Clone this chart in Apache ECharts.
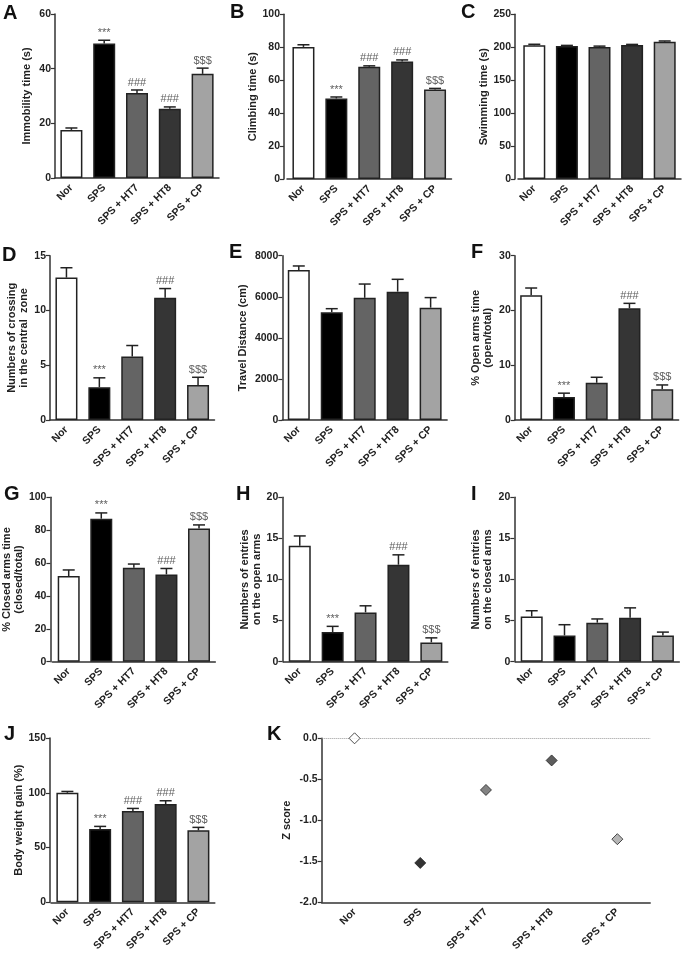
<!DOCTYPE html>
<html>
<head>
<meta charset="utf-8">
<script src="https://cdn.jsdelivr.net/npm/echarts@6/dist/echarts.min.js"></script>
<style>
html,body{margin:0;padding:0;background:#fff;}
#chart{width:685px;height:955px;}
</style>
</head>
<body>
<div id="chart"></div>
<script>
// ---------- DATA ----------
const categories = ['Nor', 'SPS', 'SPS + HT7', 'SPS + HT8', 'SPS + CP'];

const immobilityMean = [17.6, 49.2, 31.1, 25.3, 38.1];
const immobilityErr  = [0.7, 1.2, 1.1, 0.7, 2.1];
const immobilitySig  = ['', '***', '###', '###', '$$$'];

const climbingMean = [80.2, 48.9, 68.1, 71.3, 54.4];
const climbingErr  = [1.3, 0.9, 0.6, 1.0, 0.6];
const climbingSig  = ['', '***', '###', '###', '$$$'];

const swimmingMean = [203, 202, 200.5, 203.5, 208.5];
const swimmingErr  = [1.5, 0.8, 1.2, 0.8, 1.0];

const crossingMean = [13.0, 3.0, 5.8, 11.15, 3.2];
const crossingErr  = [0.9, 0.85, 1.0, 0.85, 0.7];
const crossingSig  = ['', '***', '', '###', '$$$'];

const travelMean = [7300, 5250, 5950, 6250, 5470];
const travelErr  = [200, 170, 670, 600, 490];

const openTimeMean = [22.8, 4.2, 6.8, 20.4, 5.6];
const openTimeErr  = [1.3, 0.7, 1.0, 0.9, 0.8];
const openTimeSig  = ['', '***', '', '###', '$$$'];

const closedTimeMean = [52.1, 87.0, 57.2, 53.1, 81.0];
const closedTimeErr  = [3.7, 3.5, 2.2, 3.6, 2.2];
const closedTimeSig  = ['', '***', '', '###', '$$$'];

const openEntriesMean = [14.1, 3.6, 6.0, 11.8, 2.35];
const openEntriesErr  = [1.2, 0.7, 0.8, 1.2, 0.55];
const openEntriesSig  = ['', '***', '', '###', '$$$'];

const closedEntriesMean = [5.5, 3.2, 4.75, 5.35, 3.2];
const closedEntriesErr  = [0.7, 1.3, 0.45, 1.2, 0.4];

const weightMean = [100, 67, 83.3, 89.7, 65.7];
const weightErr  = [1.2, 2.3, 2.4, 3.0, 2.7];
const weightSig  = ['', '***', '###', '###', '$$$'];

const zScore = [0.0, -1.52, -0.63, -0.27, -1.23];

// ---------- STYLE ----------
const barColors = ['#ffffff', '#000000', '#646464', '#353535', '#a3a3a3'];
const FONT = '"Liberation Sans", Arial, sans-serif';
const AX = '#333';

const panels = [
  {letter:'A', lx:3,  ly:3,   grid:{left:55,  top:14,  width:164, height:164}, off:0, name:'Immobility time (s)', gap:22, max:60, interval:20, mean:immobilityMean, err:immobilityErr, sig:immobilitySig},
  {letter:'B', lx:230,ly:2,   grid:{left:287, top:14.3,width:164.5,height:164.7}, off:3, name:'Climbing time (s)', gap:24, max:100, interval:20, mean:climbingMean, err:climbingErr, sig:climbingSig},
  {letter:'C', lx:461,ly:2,   grid:{left:518, top:14.3,width:163, height:164.7}, off:3, name:'Swimming time (s)', gap:23, max:250, interval:50, mean:swimmingMean, err:swimmingErr, sig:null},
  {letter:'D', lx:2,  ly:245, grid:{left:50,  top:255.7,width:164.5,height:164.3}, off:0, name:'Numbers of crossing\nin the central  zone', gap:18, max:15, interval:5, mean:crossingMean, err:crossingErr, sig:crossingSig},
  {letter:'E', lx:229,ly:242, grid:{left:282.3,top:255.7,width:164.8,height:164.3}, off:0, name:'Travel Distance (cm)', gap:33, max:8000, interval:2000, mean:travelMean, err:travelErr, sig:null},
  {letter:'F', lx:471,ly:242, grid:{left:514.8,top:255.7,width:163.8,height:164.3}, off:0, name:'% Open arms time\n(open/total)', gap:21, max:30, interval:10, mean:openTimeMean, err:openTimeErr, sig:openTimeSig},
  {letter:'G', lx:4,  ly:484, grid:{left:50.3,top:497.3,width:165,height:164.4}, off:2, name:'% Closed arms time\n(closed/total)', gap:24, max:100, interval:20, mean:closedTimeMean, err:closedTimeErr, sig:closedTimeSig},
  {letter:'H', lx:236,ly:484, grid:{left:283.3,top:497.3,width:164.5,height:164.4}, off:1, name:'Numbers of entries\non the open arms', gap:18, max:20, interval:5, mean:openEntriesMean, err:openEntriesErr, sig:openEntriesSig},
  {letter:'I', lx:471,ly:484, grid:{left:515.3,top:497.3,width:164,height:164.4}, off:1, name:'Numbers of entries\non the closed arms', gap:20, max:20, interval:5, mean:closedEntriesMean, err:closedEntriesErr, sig:null},
  {letter:'J', lx:4,  ly:724, grid:{left:51,  top:738, width:163.8,height:164.3}, off:1, name:'Body weight gain (%)', gap:24, max:150, interval:50, mean:weightMean, err:weightErr, sig:weightSig}
];

const grids = [], xAxes = [], yAxes = [], series = [], graphics = [];

function catAxis(gi){
  return {
    type:'category', gridIndex:gi, data:categories,
    axisLine:{onZero:false, lineStyle:{color:AX, width:1.5}},
    axisTick:{alignWithLabel:true, length:4, lineStyle:{color:AX, width:1.2}},
    axisLabel:{rotate:45, margin:8, fontFamily:FONT, fontWeight:'bold', fontSize:10.5, color:'#222', interval:0},
    splitLine:{show:false}
  };
}

function errRender(params, api){
  const x = api.value(0), m = api.value(1), e = api.value(2);
  const p0 = api.coord([x, m]);
  const p1 = api.coord([x, m + e]);
  const hw = 6;
  const st = {stroke:'#222', lineWidth:1.5};
  return {type:'group', children:[
    {type:'line', shape:{x1:p0[0], y1:p0[1], x2:p1[0], y2:p1[1]}, style:st},
    {type:'line', shape:{x1:p1[0]-hw, y1:p1[1], x2:p1[0]+hw, y2:p1[1]}, style:st}
  ]};
}

panels.forEach((p, gi) => {
  grids.push(Object.assign({containLabel:false}, p.grid));
  xAxes.push(catAxis(gi));
  yAxes.push({
    type:'value', gridIndex:gi, min:0, max:p.max, interval:p.interval, offset:p.off,
    name:p.name, nameLocation:'middle', nameGap:p.gap, nameRotate:90,
    nameTextStyle:{fontFamily:FONT, fontWeight:'bold', fontSize:11, color:'#222', lineHeight:12},
    axisLine:{show:true, lineStyle:{color:AX, width:1.5}},
    axisTick:{show:true, length:4, lineStyle:{color:AX, width:1.2}},
    axisLabel:{fontFamily:FONT, fontWeight:'bold', fontSize:10.5, color:'#222', margin:4, formatter:(v)=>String(v)},
    splitLine:{show:false}
  });
  series.push({
    type:'bar', xAxisIndex:gi, yAxisIndex:gi, barWidth:22, z:3,
    data:p.mean.map((v,i)=>({value:v, itemStyle:{color:barColors[i], borderColor:'#222', borderWidth:1.5}})),
    animation:false
  });
  series.push({
    type:'custom', xAxisIndex:gi, yAxisIndex:gi, z:2,
    renderItem:errRender,
    data:p.mean.map((v,i)=>[i, v, p.err[i]]),
    animation:false
  });
  if (p.sig){
    series.push({
      type:'scatter', xAxisIndex:gi, yAxisIndex:gi, symbolSize:0, z:4,
      data:p.mean.map((v,i)=>[i, v + p.err[i]]),
      label:{show:true, position:'top', distance:2, fontFamily:FONT, fontSize:11, color:'#333',
        formatter:(prm)=>p.sig[prm.dataIndex]},
      animation:false
    });
  }
  graphics.push({type:'text', left:p.lx, top:p.ly, style:{text:p.letter, font:'bold 20px ' + FONT, fill:'#111'}});
});

// Panel K
const gk = panels.length;
grids.push({left:321.7, top:738.3, width:328.5, height:164});
xAxes.push(catAxis(gk));
yAxes.push({
  type:'value', gridIndex:gk, min:-2, max:0, interval:0.5,
  name:'Z score', nameLocation:'middle', nameGap:29, nameRotate:90,
  nameTextStyle:{fontFamily:FONT, fontWeight:'bold', fontSize:11, color:'#222'},
  axisLine:{show:true, lineStyle:{color:AX, width:1.5}},
  axisTick:{show:true, length:4, lineStyle:{color:AX, width:1.2}},
  axisLabel:{fontFamily:FONT, fontWeight:'bold', fontSize:10.5, color:'#222', margin:4, formatter:(v)=>v.toFixed(1)},
  splitLine:{show:false}
});
series.push({
  type:'scatter', xAxisIndex:gk, yAxisIndex:gk, symbol:'diamond', symbolSize:[11,11], z:5,
  data:zScore.map((v,i)=>({value:[i, v], itemStyle:{color:barColors[i], borderColor:'#222', borderWidth:1}})),
  markLine:{silent:true, symbol:'none', label:{show:false},
    lineStyle:{type:'dotted', color:'#999', width:1}, data:[{yAxis:0}]},
  animation:false
});
graphics.push({type:'text', left:267, top:724, style:{text:'K', font:'bold 20px ' + FONT, fill:'#111'}});

const chart = echarts.init(document.getElementById('chart'), null, {renderer:'canvas'});
chart.setOption({
  animation:false,
  backgroundColor:'#ffffff',
  grid:grids, xAxis:xAxes, yAxis:yAxes, series:series, graphic:graphics
});
</script>
</body>
</html>
